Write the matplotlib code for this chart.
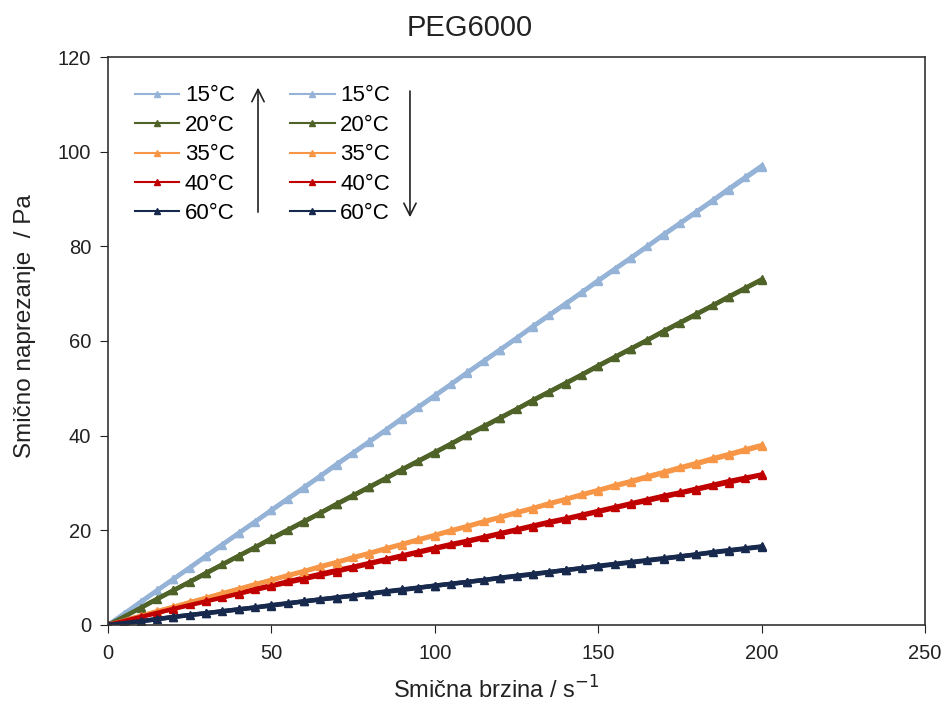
import matplotlib
matplotlib.use('Agg')
from matplotlib import pyplot as plt
import matplotlib.lines as mlines

plt.rcParams['font.family'] = ['Liberation Sans', 'DejaVu Sans']

# shear rate, every 5 s^-1 (increasing ramp) and every 10 s^-1 (decreasing ramp)
rate_up = [0, 5, 10, 15, 20, 25, 30, 35, 40, 45, 50, 55, 60, 65, 70, 75, 80, 85, 90, 95, 100,
           105, 110, 115, 120, 125, 130, 135, 140, 145, 150, 155, 160, 165, 170, 175, 180, 185, 190, 195, 200]
rate_down = [200, 190, 180, 170, 160, 150, 140, 130, 120, 110, 100, 90, 80, 70, 60, 50, 40, 30, 20, 10, 0]

temps = ['15°C', '20°C', '35°C', '40°C', '60°C']
colors = ['#95B3D7', '#4F6228', '#F79646', '#C00000', '#17294D']

up_15 = [0, 2.4, 4.9, 7.3, 9.7, 12.1, 14.6, 17.0, 19.4, 21.8, 24.3, 26.7, 29.1, 31.5, 34.0, 36.4, 38.8,
         41.2, 43.7, 46.1, 48.5, 50.9, 53.4, 55.8, 58.2, 60.6, 63.1, 65.5, 67.9, 70.3, 72.8, 75.2, 77.6,
         80.0, 82.5, 84.9, 87.3, 89.7, 92.2, 94.6, 97.0]
up_20 = [0, 1.8, 3.7, 5.5, 7.3, 9.1, 11.0, 12.8, 14.6, 16.4, 18.3, 20.1, 21.9, 23.7, 25.6, 27.4, 29.2,
         31.0, 32.9, 34.7, 36.5, 38.3, 40.2, 42.0, 43.8, 45.6, 47.5, 49.3, 51.1, 52.9, 54.8, 56.6, 58.4,
         60.2, 62.1, 63.9, 65.7, 67.5, 69.4, 71.2, 73.0]
up_35 = [0, 1.0, 1.9, 2.9, 3.8, 4.8, 5.7, 6.7, 7.6, 8.6, 9.5, 10.5, 11.4, 12.4, 13.3, 14.3, 15.2,
         16.2, 17.1, 18.1, 19.0, 20.0, 20.9, 21.9, 22.8, 23.8, 24.7, 25.7, 26.6, 27.6, 28.5, 29.5, 30.4,
         31.4, 32.3, 33.3, 34.2, 35.2, 36.1, 37.1, 38.0]
up_40 = [0, 0.9, 1.8, 2.6, 3.5, 4.4, 5.2, 6.0, 6.8, 7.6, 8.4, 9.2, 10.0, 10.8, 11.6, 12.3, 13.1,
         13.9, 14.7, 15.5, 16.3, 17.1, 17.8, 18.6, 19.4, 20.2, 21.0, 21.8, 22.5, 23.3, 24.1, 24.9, 25.7,
         26.5, 27.3, 28.0, 28.8, 29.6, 30.4, 31.1, 31.8]
up_60 = [0, 0.4, 0.8, 1.2, 1.7, 2.1, 2.5, 2.9, 3.3, 3.7, 4.2, 4.6, 5.0, 5.4, 5.8, 6.2, 6.6,
         7.1, 7.5, 7.9, 8.3, 8.7, 9.1, 9.5, 10.0, 10.4, 10.8, 11.2, 11.6, 12.0, 12.5, 12.9, 13.3,
         13.7, 14.1, 14.5, 14.9, 15.4, 15.8, 16.2, 16.6]

down_15 = [96.8, 92.0, 87.2, 82.4, 77.5, 72.7, 67.8, 63.0, 58.1, 53.3, 48.4, 43.6, 38.7, 33.9, 29.0, 24.2, 19.4, 14.5, 9.7, 4.8, 0]
down_20 = [72.9, 69.3, 65.6, 62.0, 58.3, 54.7, 51.0, 47.4, 43.7, 40.1, 36.4, 32.8, 29.1, 25.5, 21.8, 18.2, 14.6, 10.9, 7.3, 3.6, 0]
down_35 = [37.8, 35.9, 34.0, 32.1, 30.2, 28.4, 26.5, 24.6, 22.7, 20.8, 18.9, 17.0, 15.1, 13.2, 11.3, 9.5, 7.6, 5.7, 3.8, 1.9, 0]
down_40 = [31.7, 30.1, 28.6, 27.0, 25.5, 23.9, 22.3, 20.8, 19.2, 17.6, 16.1, 14.5, 12.9, 11.3, 9.7, 8.2, 6.6, 5.0, 3.4, 1.7, 0]
down_60 = [16.5, 15.7, 14.9, 14.0, 13.2, 12.4, 11.6, 10.7, 9.9, 9.1, 8.3, 7.4, 6.6, 5.8, 5.0, 4.1, 3.3, 2.5, 1.7, 0.8, 0]

up_series = [up_15, up_20, up_35, up_40, up_60]
down_series = [down_15, down_20, down_35, down_40, down_60]

fig = plt.figure(figsize=(9.44, 7.02), dpi=100)
ax = fig.add_axes([0.1144, 0.1097, 0.8655, 0.8091])

for c, ys in zip(colors, up_series):
    ax.plot(rate_up, ys, color=c, linewidth=3.2, marker='^', markersize=6)
for c, ys in zip(colors, down_series):
    ax.plot(rate_down, ys, color=c, linewidth=3.2, marker='^', markersize=6)

ax.set_xlim(0, 250)
ax.set_ylim(0, 120)
ax.set_xticks([0, 50, 100, 150, 200, 250])
ax.set_yticks([0, 20, 40, 60, 80, 100, 120])
ax.tick_params(direction='out', length=6, labelsize=14.5, colors='#222222', pad=6)
ax.tick_params(axis='x', pad=8)
for s in ax.spines.values():
    s.set_linewidth(1.2)
    s.set_color('#333333')

# title / axis titles are centred like the original (not on the plot area)
fig.text(0.498, 0.960, 'PEG6000', fontsize=21, ha='center', va='center', color='#222222')
ax.set_xlabel('Smična brzina / s$^{-1}$', fontsize=17, va='center', color='#222222')
ax.xaxis.set_label_coords(0.475, -0.114)
ax.set_ylabel('Smično naprezanje  / Pa', fontsize=17.5, va='center', color='#222222')
ax.yaxis.set_label_coords(-0.1016, 0.526)

# legends: thin line + small marker, two columns (up ramp / down ramp)
leg_kw = dict(frameon=False, fontsize=16, handlelength=2.0, handletextpad=0.25,
              labelspacing=0.38, borderaxespad=0, borderpad=0)
proxy_up = [mlines.Line2D([], [], color=c, linewidth=1.5, marker='^', markersize=4) for c in colors]
proxy_down = [mlines.Line2D([], [], color=c, linewidth=1.5, marker='^', markersize=4) for c in colors]
leg1 = ax.legend(proxy_up, temps, loc='upper left', bbox_to_anchor=(0.033, 0.95), **leg_kw)
ax.add_artist(leg1)
ax.legend(proxy_down, temps, loc='upper left', bbox_to_anchor=(0.223, 0.95), **leg_kw)

# ramp direction arrows
ax.annotate('', xy=(0.1836, 0.951), xytext=(0.1836, 0.722), xycoords='axes fraction',
            arrowprops=dict(arrowstyle='->', color='#222222', lw=1.2, mutation_scale=22))
ax.annotate('', xy=(0.3696, 0.713), xytext=(0.3696, 0.945), xycoords='axes fraction',
            arrowprops=dict(arrowstyle='->', color='#222222', lw=1.2, mutation_scale=22))

plt.savefig('out.png', dpi=100)
plt.close(fig)
